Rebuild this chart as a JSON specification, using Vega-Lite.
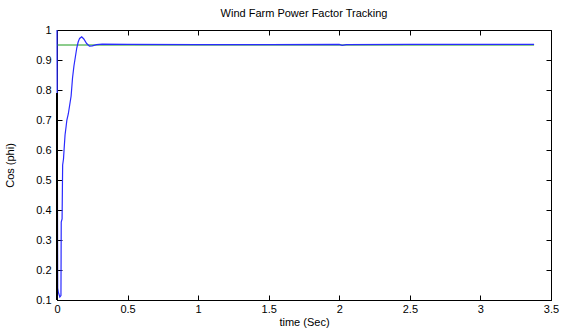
{
  "$schema": "https://vega.github.io/schema/vega-lite/v6.json",
  "width": 494,
  "height": 270,
  "autosize": {"type": "none"},
  "padding": {"left": 57, "top": 30, "right": 27, "bottom": 29},
  "background": "white",
  "config": {
    "font": "Liberation Sans",
    "view": {"stroke": "black", "strokeWidth": 1},
    "axis": {"grid": false, "domainColor": "black", "tickColor": "black", "labelColor": "black", "titleColor": "black", "labelFontSize": 11, "titleFontSize": 11, "titleFontWeight": "normal", "tickSize": -5, "labelFont": "Liberation Sans", "titleFont": "Liberation Sans", "labelOverlap": false, "labelBound": false, "labelFlush": false}
  },
  "title": {"text": "Wind Farm Power Factor Tracking", "fontSize": 11, "fontWeight": "normal", "font": "Liberation Sans", "color": "black", "offset": 5, "anchor": "middle"},
  "resolve": {"axis": {"x": "independent", "y": "independent"}},
  "datasets": {
    "pf": [
      {"t": 0, "v": 1.0}, {"t": 0.005, "v": 0.14}, {"t": 0.01, "v": 0.125}, {"t": 0.02, "v": 0.11}, {"t": 0.028, "v": 0.115},
      {"t": 0.03, "v": 0.36}, {"t": 0.036, "v": 0.37}, {"t": 0.04, "v": 0.55}, {"t": 0.046, "v": 0.57}, {"t": 0.05, "v": 0.6},
      {"t": 0.057, "v": 0.65}, {"t": 0.065, "v": 0.68}, {"t": 0.07, "v": 0.7}, {"t": 0.08, "v": 0.72}, {"t": 0.09, "v": 0.75},
      {"t": 0.1, "v": 0.78}, {"t": 0.11, "v": 0.84}, {"t": 0.12, "v": 0.88}, {"t": 0.13, "v": 0.91}, {"t": 0.14, "v": 0.94},
      {"t": 0.15, "v": 0.96}, {"t": 0.16, "v": 0.972}, {"t": 0.175, "v": 0.977}, {"t": 0.19, "v": 0.97}, {"t": 0.21, "v": 0.955},
      {"t": 0.23, "v": 0.946}, {"t": 0.25, "v": 0.947}, {"t": 0.28, "v": 0.951}, {"t": 0.32, "v": 0.953}, {"t": 0.5, "v": 0.952},
      {"t": 1.0, "v": 0.951}, {"t": 1.5, "v": 0.951}, {"t": 2.0, "v": 0.952}, {"t": 2.02, "v": 0.949}, {"t": 2.05, "v": 0.951},
      {"t": 2.5, "v": 0.952}, {"t": 3.0, "v": 0.952}, {"t": 3.38, "v": 0.952}
    ],
    "ref": [{"t": 0, "v": 0.95}, {"t": 3.38, "v": 0.95}],
    "blk": [{"t": 0.0, "v": 0.79}, {"t": 0.0, "v": 0.1}]
  },
  "layer": [
    {
      "data": {"name": "ref"},
      "mark": {"type": "line", "color": "#1a9a1a", "strokeWidth": 1},
      "encoding": {
        "x": {"field": "t", "type": "quantitative", "scale": {"domain": [0, 3.5], "nice": false, "zero": false}, "axis": {"title": "time (Sec)", "values": [0, 0.5, 1, 1.5, 2, 2.5, 3, 3.5], "format": ".1~f", "labelPadding": 8, "titlePadding": 2}},
        "y": {"field": "v", "type": "quantitative", "scale": {"domain": [0.1, 1], "nice": false, "zero": false}, "axis": {"title": "Cos (phi)", "values": [0.1, 0.2, 0.3, 0.4, 0.5, 0.6, 0.7, 0.8, 0.9, 1], "format": ".1~f", "labelPadding": 11, "titlePadding": 20}}
      }
    },
    {
      "data": {"name": "pf"},
      "mark": {"type": "line", "color": "#2a2aff", "strokeWidth": 1.2},
      "encoding": {
        "x": {"field": "t", "type": "quantitative", "axis": {"orient": "top", "title": null, "labels": false, "domain": false, "values": [0, 0.5, 1, 1.5, 2, 2.5, 3, 3.5]}},
        "y": {"field": "v", "type": "quantitative", "axis": {"orient": "right", "title": null, "labels": false, "domain": false, "values": [0.1, 0.2, 0.3, 0.4, 0.5, 0.6, 0.7, 0.8, 0.9, 1]}}
      }
    },
    {
      "data": {"name": "blk"},
      "mark": {"type": "line", "color": "black", "strokeWidth": 2},
      "encoding": {
        "x": {"field": "t", "type": "quantitative", "axis": null},
        "y": {"field": "v", "type": "quantitative", "axis": null}
      }
    }
  ]
}
